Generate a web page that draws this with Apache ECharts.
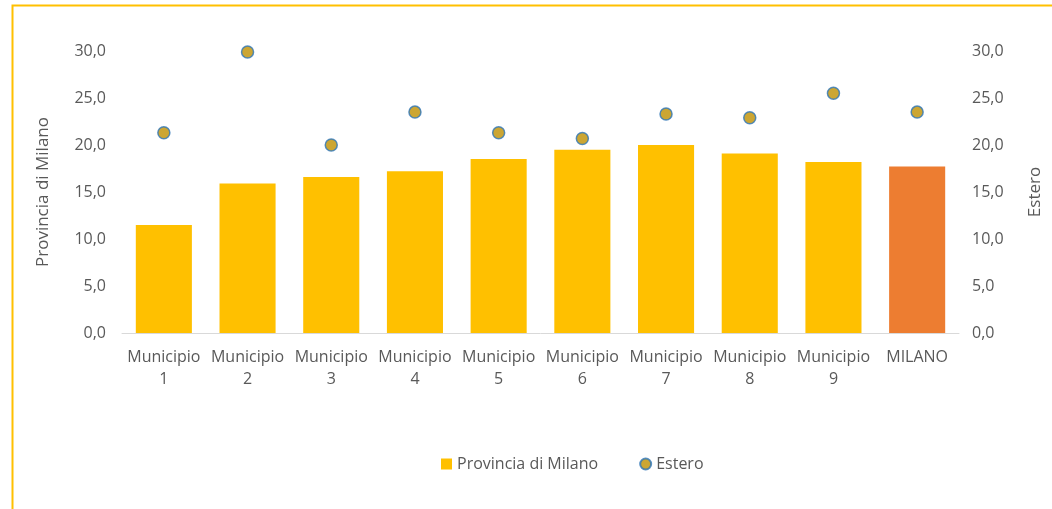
<!DOCTYPE html>
<html>
<head>
<meta charset="utf-8">
<script src="https://cdn.jsdelivr.net/npm/echarts@6/dist/echarts.min.js"></script>
<style>
  html, body { margin: 0; padding: 0; background: #fff; }
  #main { width: 1052px; height: 509px; }
</style>
</head>
<body>
<div id="main"></div>
<script>
const categories = ['Municipio\n1', 'Municipio\n2', 'Municipio\n3', 'Municipio\n4', 'Municipio\n5',
  'Municipio\n6', 'Municipio\n7', 'Municipio\n8', 'Municipio\n9', 'MILANO']
const provincia = [11.5, 15.9, 16.6, 17.2, 18.5, 19.5, 20.0, 19.1, 18.2, 17.7]
const estero = [21.3, 29.9, 20.0, 23.5, 21.3, 20.7, 23.3, 22.9, 25.5, 23.5]

const chart = echarts.init(document.getElementById('main'))
const fmt = (v) => v.toFixed(1).replace('.', ',')
const labelStyle = { color: '#595959', fontSize: 16, fontFamily: 'Open Sans' }

const option = {
  animation: false,
  textStyle: { fontFamily: 'Open Sans' },
  graphic: [
    {
      type: 'rect',
      shape: { x: 12.5, y: 5.5, width: 1200, height: 600 },
      style: { fill: 'none', stroke: '#FFC000', lineWidth: 2 },
      silent: true,
    },
  ],
  grid: { left: 122, right: 90, top: 51, bottom: 176 },
  legend: {
    top: 451,
    left: 436,
    itemGap: 41,
    itemWidth: 11,
    itemHeight: 11,
    textStyle: { color: '#595959', fontSize: 16, fontFamily: 'Open Sans' },
    data: [
      { name: 'Provincia di Milano', icon: 'rect' },
      { name: 'Estero', icon: 'circle' },
    ],
  },
  xAxis: {
    type: 'category',
    data: categories,
    axisTick: { show: false },
    axisLine: { lineStyle: { color: '#D9D9D9' } },
    axisLabel: Object.assign({ interval: 0, lineHeight: 22, margin: 13 }, labelStyle),
  },
  yAxis: [
    {
      type: 'value',
      min: 0, max: 30, interval: 5,
      name: 'Provincia di Milano',
      nameLocation: 'middle',
      nameGap: 70,
      nameTextStyle: { color: '#595959', fontSize: 17, fontFamily: 'Open Sans' },
      splitLine: { show: false },
      axisLine: { show: false },
      axisLabel: Object.assign({ formatter: fmt, margin: 16 }, labelStyle),
    },
    {
      type: 'value',
      min: 0, max: 30, interval: 5,
      name: 'Estero',
      nameLocation: 'middle',
      nameGap: 68,
      nameTextStyle: { color: '#595959', fontSize: 17, fontFamily: 'Open Sans' },
      splitLine: { show: false },
      axisLine: { show: false },
      axisLabel: Object.assign({ formatter: fmt, margin: 13 }, labelStyle),
    },
  ],
  series: [
    {
      name: 'Provincia di Milano',
      type: 'bar',
      barWidth: '67%',
      itemStyle: { color: '#FFC000' },
      data: provincia.map((v, i) => i === provincia.length - 1
        ? { value: v, itemStyle: { color: '#ED7D31' } } : v),
    },
    {
      name: 'Estero',
      type: 'scatter',
      yAxisIndex: 1,
      symbol: 'circle',
      symbolSize: 12,
      itemStyle: { color: '#BF9000', borderColor: '#2E75B6', borderWidth: 1.5 },
      data: estero,
    },
  ],
}
chart.setOption(option)
</script>
</body>
</html>
